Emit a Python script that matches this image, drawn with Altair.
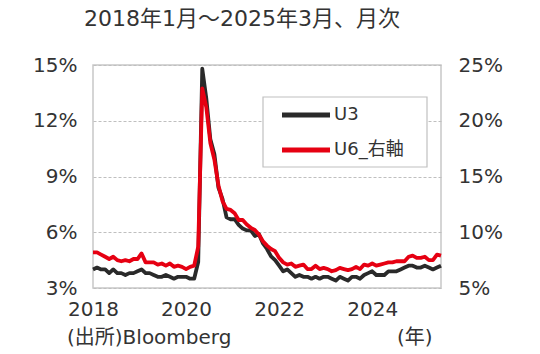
import json
import altair as alt
import pandas as pd

# ---- data (monthly, 2018-01 .. 2025-03) ----
u3 = [4.0, 4.1, 4.0, 4.0, 3.8, 4.0, 3.8, 3.8, 3.7, 3.8, 3.8, 3.9,
      4.0, 3.8, 3.8, 3.7, 3.6, 3.6, 3.7, 3.6, 3.5, 3.6, 3.6, 3.6,
      3.5, 3.5, 4.4, 14.8, 13.2, 11.0, 10.2, 8.4, 7.8, 6.8, 6.7, 6.7,
      6.4, 6.2, 6.1, 6.1, 5.8, 5.9, 5.4, 5.1, 4.7, 4.5, 4.2, 3.9,
      4.0, 3.8, 3.6, 3.7, 3.6, 3.6, 3.5, 3.6, 3.5, 3.6, 3.6, 3.5,
      3.4, 3.6, 3.5, 3.4, 3.6, 3.6, 3.5, 3.7, 3.8, 3.9, 3.7, 3.7,
      3.7, 3.9, 3.9, 3.9, 4.0, 4.1, 4.2, 4.2, 4.1, 4.1, 4.2, 4.1,
      4.0, 4.1, 4.2]
u6 = [8.2, 8.2, 8.0, 7.8, 7.6, 7.8, 7.5, 7.4, 7.5, 7.4, 7.6, 7.6,
      8.1, 7.3, 7.3, 7.3, 7.1, 7.2, 7.0, 7.2, 6.9, 7.0, 6.9, 6.7,
      6.9, 7.0, 8.7, 22.9, 21.2, 18.0, 16.5, 14.2, 12.8, 12.1, 12.0, 11.7,
      11.1, 11.1, 10.7, 10.4, 10.2, 9.8, 9.2, 8.8, 8.5, 8.3, 7.7, 7.3,
      7.1, 7.2, 6.9, 7.0, 7.1, 6.7, 6.7, 7.0, 6.7, 6.8, 6.7, 6.5,
      6.6, 6.8, 6.7, 6.6, 6.7, 6.9, 6.7, 7.1, 7.0, 7.2, 7.0, 7.1,
      7.2, 7.3, 7.3, 7.4, 7.4, 7.4, 7.8, 7.9, 7.7, 7.7, 7.8, 7.5,
      7.5, 8.0, 7.9]
series_names = ["U3", "U6_右軸"]
series_colors = ["#2a2a2a", "#e60012"]
x_tick_idx = [0, 23, 46, 69]
x_tick_labels = ["2018", "2020", "2022", "2024"]
left_ticks = [3, 6, 9, 12, 15]
right_ticks = [5, 10, 15, 20, 25]
title_text = "2018年1月～2025年3月、月次"
source_text = "(出所)Bloomberg"
unit_text = "(年)"

n = len(u3)
df = pd.DataFrame({
    "i": list(range(n)) * 2,
    "v": u3 + u6,
    "s": [series_names[0]] * n + [series_names[1]] * n,
})

FONT = "DejaVu Sans, Noto Sans CJK JP"
TXT = "#333333"

x_label_expr = f"{json.dumps(x_tick_labels)}[indexof({json.dumps(x_tick_idx)}, datum.value)]"

color = alt.Color(
    "s:N",
    scale=alt.Scale(domain=series_names, range=series_colors),
    legend=None,
)

x_enc = alt.X(
    "i:Q",
    scale=alt.Scale(domain=[0, n - 1], nice=False, zero=False),
    axis=alt.Axis(values=x_tick_idx, labelExpr=x_label_expr, title=None, domain=False,
                  ticks=False, grid=False, labelFontSize=20, labelFont=FONT, labelColor=TXT,
                  labelPadding=11, labelFlush=False, labelOverlap=False),
)

base = alt.Chart(df)

u3_line = base.transform_filter(alt.datum.s == series_names[0]).mark_line(
    strokeWidth=3.8, strokeJoin="round"
).encode(
    x=x_enc,
    y=alt.Y("v:Q", scale=alt.Scale(domain=[3, 15], nice=False, zero=False),
            axis=alt.Axis(values=left_ticks, labelExpr="datum.value + '%'", title=None,
                          domain=False, ticks=False, grid=True, gridDash=[3, 2],
                          gridColor="#bfbfbf", labelFontSize=20, labelFont=FONT,
                          labelColor=TXT, labelPadding=16, labelFlush=False,
                          labelOverlap=False)),
    color=color,
)

u6_line = base.transform_filter(alt.datum.s == series_names[1]).mark_line(
    strokeWidth=3.8, strokeJoin="round"
).encode(
    x=x_enc,
    y=alt.Y("v:Q", scale=alt.Scale(domain=[5, 25], nice=False, zero=False),
            axis=alt.Axis(orient="right", values=right_ticks, labelExpr="datum.value + '%'",
                          title=None, domain=False, ticks=False, grid=False,
                          labelFontSize=20, labelFont=FONT, labelColor=TXT,
                          labelPadding=17, labelFlush=False, labelOverlap=False)),
    color=color,
)

# ---- legend (box, line keys, labels) ----
one = pd.DataFrame({"k": [0]})
legend_box = alt.Chart(one).mark_rect(fill="white", stroke="#c0c0c0", strokeWidth=1.2).encode(
    x=alt.value(170), x2=alt.value(334), y=alt.value(32), y2=alt.value(102)
)
legend_marks = [legend_box]
for k, (name, col) in enumerate(zip(series_names, series_colors)):
    yy = 50 + 35 * k
    legend_marks.append(
        alt.Chart(one).mark_rule(color=col, strokeWidth=5).encode(
            x=alt.value(189), x2=alt.value(237), y=alt.value(yy)
        )
    )
    legend_marks.append(
        alt.Chart(pd.DataFrame({"t": [name]})).mark_text(
            fontSize=18, font=FONT, color=TXT, align="left", baseline="middle"
        ).encode(text="t:N", x=alt.value(241), y=alt.value(yy))
    )

title_mark = alt.Chart(pd.DataFrame({"t": [title_text]})).mark_text(
    fontSize=22, font=FONT, color=TXT, align="center", baseline="alphabetic"
).encode(text="t:N", x=alt.value(149), y=alt.value(-39))

source_mark = alt.Chart(pd.DataFrame({"t": [source_text]})).mark_text(
    fontSize=20, font=FONT, color=TXT, align="left", baseline="middle"
).encode(text="t:N", x=alt.value(-26), y=alt.value(273))

unit_mark = alt.Chart(pd.DataFrame({"t": [unit_text]})).mark_text(
    fontSize=20, font=FONT, color=TXT, align="left", baseline="middle"
).encode(text="t:N", x=alt.value(304), y=alt.value(273))

chart = alt.layer(u3_line, u6_line, *legend_marks, title_mark, source_mark, unit_mark).resolve_scale(
    y="independent"
).properties(
    width=348, height=223, autosize="none",
    padding={"left": 93, "top": 65, "right": 99, "bottom": 66},
    background="white",
).configure_view(stroke="#c8c8c8", strokeWidth=1.5)

chart.save("out.html", embed_options={"renderer": "svg", "actions": False})
